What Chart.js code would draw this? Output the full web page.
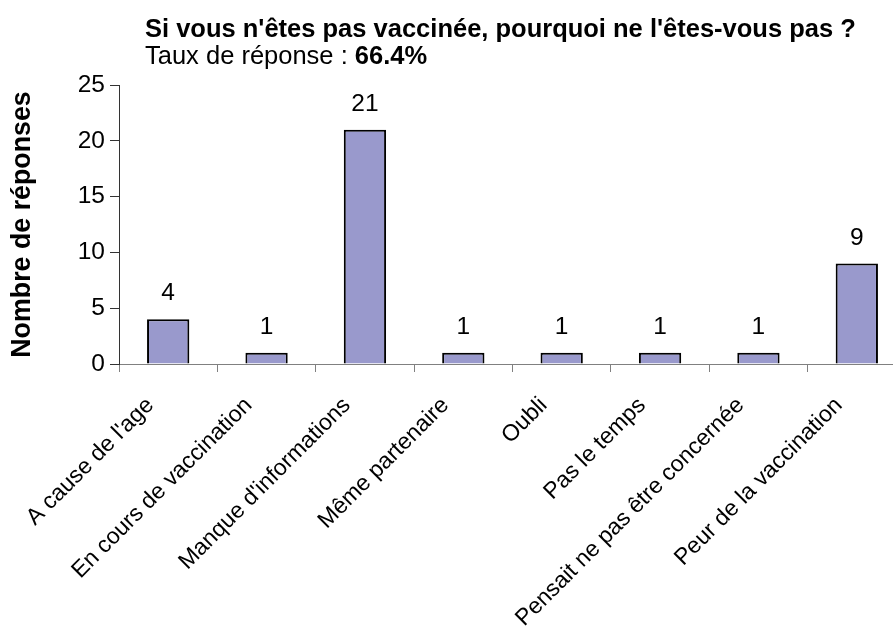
<!DOCTYPE html>
<html>
<head>
<meta charset="utf-8">
<script src="https://cdn.jsdelivr.net/npm/chart.js@4"></script>
<style>
  html, body { margin: 0; padding: 0; background: #fff; overflow: hidden; }
  #wrap { position: relative; width: 912px; height: 630px; }
</style>
</head>
<body>
<div id="wrap"><canvas id="reasonsChart"></canvas></div>
<script>
const categories = ["A cause de l'age", 'En cours de vaccination', "Manque d'informations", 'Même partenaire',
    'Oubli', 'Pas le temps', 'Pensait ne pas être concernée', 'Peur de la vaccination'];
const responses = [4, 1, 21, 1, 1, 1, 1, 9];
const yTicks = [0, 5, 10, 15, 20, 25];

const chartTitle = "Si vous n'êtes pas vaccinée, pourquoi ne l'êtes-vous pas ?";
const rateLabel = 'Taux de réponse : ';
const rateValue = '66.4%';
const FONT = "'Liberation Sans', Arial, sans-serif";

// title + subtitle, top left (subtitle has a bold part)
const headerPlugin = {
    id: 'header',
    afterDraw(chart) {
        const c = chart.ctx;
        c.save();
        c.fillStyle = '#000';
        c.textBaseline = 'alphabetic';
        c.textAlign = 'left';
        c.font = 'bold 25.5px ' + FONT;
        c.fillText(chartTitle, 145, 37);
        c.font = '25.5px ' + FONT;
        c.fillText(rateLabel, 145, 64);
        const w = c.measureText(rateLabel).width;
        c.font = 'bold 25.5px ' + FONT;
        c.fillText(rateValue, 145 + w, 64);
        c.restore();
    }
};

// value above each bar
const valueLabels = {
    id: 'valueLabels',
    afterDatasetsDraw(chart) {
        const c = chart.ctx;
        const meta = chart.getDatasetMeta(0);
        c.save();
        c.fillStyle = '#000';
        c.font = '24.5px ' + FONT;
        c.textAlign = 'center';
        c.textBaseline = 'alphabetic';
        meta.data.forEach((bar, i) => {
            c.fillText(String(responses[i]), bar.x, bar.y - 19);
        });
        c.restore();
    }
};

const ctx = document.getElementById('reasonsChart').getContext('2d');
const reasonsChart = new Chart(ctx, {
    type: 'bar',
    data: {
        labels: categories,
        datasets: [{
            data: responses,
            backgroundColor: '#9999CC',
            borderColor: '#000000',
            borderWidth: 2,
            categoryPercentage: 1.0,
            barPercentage: 0.43
        }]
    },
    plugins: [headerPlugin, valueLabels],
    options: {
        responsive: true,
        maintainAspectRatio: false,
        animation: false,
        layout: { padding: { top: 85, left: 0, right: 6, bottom: 0 } },
        plugins: {
            legend: { display: false },
            tooltip: { enabled: false }
        },
        scales: {
            x: {
                offset: true,
                afterFit(scale) { scale.height = 266; },
                grid: { drawOnChartArea: false, drawTicks: true, tickLength: 8, color: '#808080', offset: true },
                border: { color: '#808080', width: 1 },
                ticks: {
                    color: '#000',
                    font: { family: FONT, size: 23 },
                    maxRotation: 45,
                    minRotation: 45,
                    autoSkip: false,
                    padding: 20,
                    labelOffset: -18
                }
            },
            y: {
                min: 0,
                max: 25,
                afterBuildTicks(scale) { scale.ticks = yTicks.map(v => ({ value: v })); },
                afterFit(scale) { scale.width = 119; },
                grid: { drawOnChartArea: false, drawTicks: true, tickLength: 9, color: '#333' },
                border: { color: '#333', width: 1 },
                ticks: {
                    color: '#000',
                    font: { family: FONT, size: 24.5 },
                    padding: 5
                },
                title: {
                    display: true,
                    text: 'Nombre de réponses',
                    color: '#000',
                    font: { family: FONT, size: 26.8, weight: 'bold' },
                    padding: { top: 7, bottom: 0 }
                }
            }
        }
    }
});
</script>
</body>
</html>
